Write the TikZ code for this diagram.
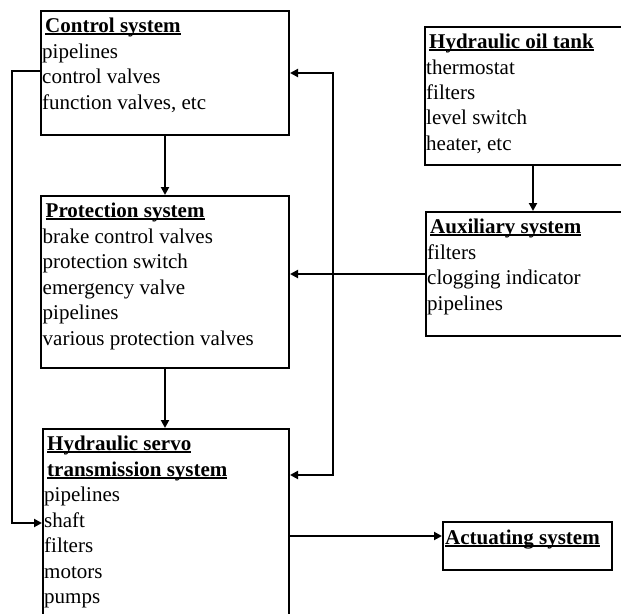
\documentclass[tikz,border=0pt]{standalone}
\usepackage{fontspec}
\setmainfont{Liberation Serif}
\usetikzlibrary{arrows.meta}
\newcommand\ttl[1]{\setbox0\hbox{\bfseries #1}\rlap{\rule[-2.6pt]{\wd0}{1.7pt}}\box0}
\newcommand\lns[1]{\parbox[t]{300pt}{\raggedright #1}}
\tikzset{
  sysbox/.style={draw, line width=2pt, inner sep=0pt, anchor=north west},
  txt/.style={inner sep=0pt, anchor=base west, font=\fontsize{21}{25.5}\selectfont},
  arr/.style={line width=2pt, -{Triangle[length=8pt,width=8pt]}}
}
\begin{document}
\begin{tikzpicture}[x=1pt,y=-1pt]
\useasboundingbox (0,0) rectangle (621,613);
\clip (0,0) rectangle (621,613);
\fill[white] (0,0) rectangle (621,613);
% boxes
\node[sysbox, minimum width=248pt, minimum height=124pt] (ctrl) at (40,10) {};
\node[sysbox, minimum width=248pt, minimum height=172pt] (prot) at (40,195) {};
\node[sysbox, minimum width=246pt, minimum height=220pt] (serv) at (42,428) {};
\node[sysbox, minimum width=220pt, minimum height=138pt] (tank) at (424,26) {};
\node[sysbox, minimum width=220pt, minimum height=124pt] (aux) at (425,211) {};
\node[sysbox, minimum width=169pt, minimum height=48pt] (act) at (442,521) {};
% texts
\node[txt] (ctrlt) at ([xshift=2pt,yshift=-22.5pt]ctrl.north west)
  {\lns{\hspace*{3pt}\ttl{Control system}\\pipelines\\control valves\\function valves, etc}};
\node[txt] (prott) at ([xshift=2.5pt,yshift=-22.5pt]prot.north west)
  {\lns{\hspace*{3pt}\ttl{Protection system}\\brake control valves\\protection switch\\emergency valve\\pipelines\\various protection valves}};
\node[txt] (servt) at ([xshift=2pt,yshift=-22.5pt]serv.north west)
  {\lns{\hspace*{3pt}\ttl{Hydraulic servo}\\\hspace*{3pt}\ttl{transmission system}\\pipelines\\shaft\\filters\\motors\\pumps}};
\node[txt] (tankt) at ([xshift=2pt,yshift=-22.5pt]tank.north west)
  {\lns{\hspace*{3pt}\ttl{Hydraulic oil tank}\\thermostat\\filters\\level switch\\heater, etc}};
\node[txt] (auxt) at ([xshift=2pt,yshift=-22.5pt]aux.north west)
  {\lns{\hspace*{3pt}\ttl{Auxiliary system}\\filters\\clogging indicator\\pipelines}};
\node[txt] (actt) at ([xshift=1.5pt,yshift=-23pt]act.north west)
  {\lns{\hspace*{1.5pt}\ttl{Actuating system}}};
% helper coordinates
\coordinate (tx) at (533,0);
\coordinate (lb) at (12,523);
\coordinate (j) at (333,273);
\coordinate (sb) at (0,475);
\coordinate (ay) at (0,536);
% connectors
\draw[arr] (ctrl.south) -- (ctrl.south |- prot.north);
\draw[arr] (prot.south) -- (prot.south |- serv.north);
\draw[arr] (tank.south -| tx) -- (aux.north -| tx);
\draw[arr] ([yshift=2pt]ctrl.west) -| (lb) -- (serv.west |- lb);
\draw[arr] (aux.west) -- (aux.west -| prot.east);
\draw[arr] (j) |- (ctrl.east);
\draw[arr] (j) |- (serv.east |- sb);
\draw[arr] (serv.east |- ay) -- (act.west |- ay);
\end{tikzpicture}
\end{document}
